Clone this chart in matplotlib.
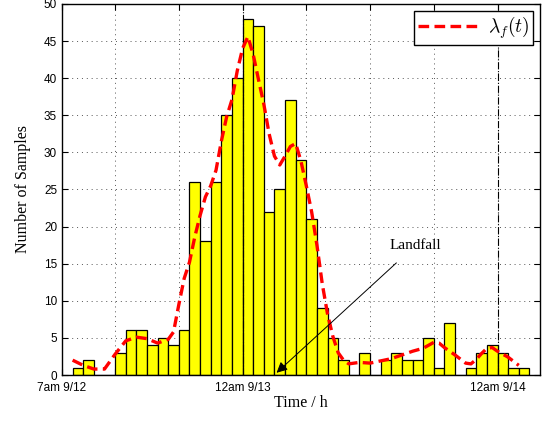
import matplotlib

matplotlib.use("Agg")

import matplotlib.pyplot as plt  # noqa: E402
import numpy as np  # noqa: E402

plt.rcParams["mathtext.fontset"] = "cm"

# ---------------------------------------------------------------- data
# hourly bins, hours after 7am 9/12
bin_start = list(range(1, 44))
counts = [1, 2, 0, 0, 3, 6, 6, 4, 5, 4, 6, 26, 18, 26, 35, 40, 48, 47, 22, 25,
          37, 29, 21, 9, 5, 2, 0, 3, 0, 2, 3, 2, 2, 5, 1, 7, 0, 1, 3, 4, 3, 1, 1]

lam_t = [1, 2, 3, 4, 5, 6, 7, 8, 9, 10, 10.5, 11, 11.5, 12, 12.5, 13, 13.5, 14,
         14.5, 15, 15.5, 16, 16.5, 17, 17.5, 18, 18.5, 19, 19.5, 20, 20.5, 21,
         21.5, 22, 22.5, 23, 23.5, 24, 24.5, 25, 25.5, 26, 26.5, 27, 28, 29, 30,
         31, 32, 33, 34, 35, 35.5, 36, 37, 38, 38.5, 39, 39.5, 40, 40.5, 41, 42, 43]
lam_v = [2.0, 1.3, 0.8, 0.8, 2.8, 4.6, 5.1, 4.9, 4.3, 4.8, 5.8, 9.5, 13.0, 15.2,
         18.6, 21.5, 24.0, 25.5, 27.6, 31.5, 34.8, 37.1, 41.0, 44.0, 45.6, 43.2,
         39.8, 36.5, 32.5, 29.5, 28.3, 29.5, 30.8, 31.2, 28.8, 25.5, 22.0, 17.5,
         12.3, 8.2, 5.2, 3.0, 2.0, 1.5, 1.7, 1.6, 1.9, 2.2, 2.7, 3.2, 3.6, 4.4,
         4.3, 3.7, 2.7, 1.6, 1.5, 2.1, 2.9, 3.6, 3.7, 3.2, 2.4, 1.3]

tick_pos = [0, 5, 11, 17, 23, 29, 35, 41]
tick_lab = ["7am 9/12", "", "", "12am 9/13", "", "", "", "12am 9/14"]
day_marks = [17, 41]
landfall = 20.2

# ---------------------------------------------------------------- figure
fig = plt.figure(figsize=(5.44, 4.21), dpi=100)
ax = fig.add_axes([62 / 544, 46 / 421, 478 / 544, 371 / 421])

ax.bar(bin_start, counts, width=1.0, align="edge", color="#ffff00",
       edgecolor="black", linewidth=0.9, zorder=2)
line, = ax.plot(lam_t, lam_v, color="red", ls=(0, (3.2, 1.6)), lw=2.4, zorder=4)

for d in day_marks:
    ax.axvline(d, color="black", ls="-.", lw=0.8, zorder=3)

ax.set_xlim(0, 45)
ax.set_ylim(0, 50)
ax.set_xticks(tick_pos)
ax.set_xticklabels(tick_lab)
ax.set_yticks(np.arange(0, 51, 5))
ax.tick_params(direction="in", top=True, right=True, labelsize=8.5, length=4)
ax.tick_params(axis="x", pad=5)
for lab in ax.get_xticklabels() + ax.get_yticklabels():
    lab.set_family("Liberation Sans")

ax.grid(True, color="#555555", ls=(0, (1, 4)), lw=0.7, zorder=1)
ax.set_axisbelow(True)
for sp in ax.spines.values():
    sp.set_linewidth(1.0)

ax.set_xlabel("Time / h", family="Liberation Serif", fontsize=11.5, labelpad=1)
ax.set_ylabel("Number of Samples", family="Liberation Serif", fontsize=11.5, labelpad=9)

ax.annotate("Landfall", xy=(landfall, 0.3), xytext=(33.3, 17.5),
            family="Liberation Serif", fontsize=11, ha="center", va="center",
            arrowprops=dict(arrowstyle="-|>", color="black", lw=0.7,
                            mutation_scale=16, shrinkA=9, shrinkB=0),
            zorder=5)

leg = ax.legend([line], [r"$\lambda_f(t)$"], loc="upper right", fontsize=14,
                fancybox=False, framealpha=1, edgecolor="black",
                handlelength=3.3, handletextpad=0.3, borderpad=0.2,
                borderaxespad=0.35)
leg.get_frame().set_linewidth(1.0)

fig.savefig("out.png", dpi=100, facecolor="white")
